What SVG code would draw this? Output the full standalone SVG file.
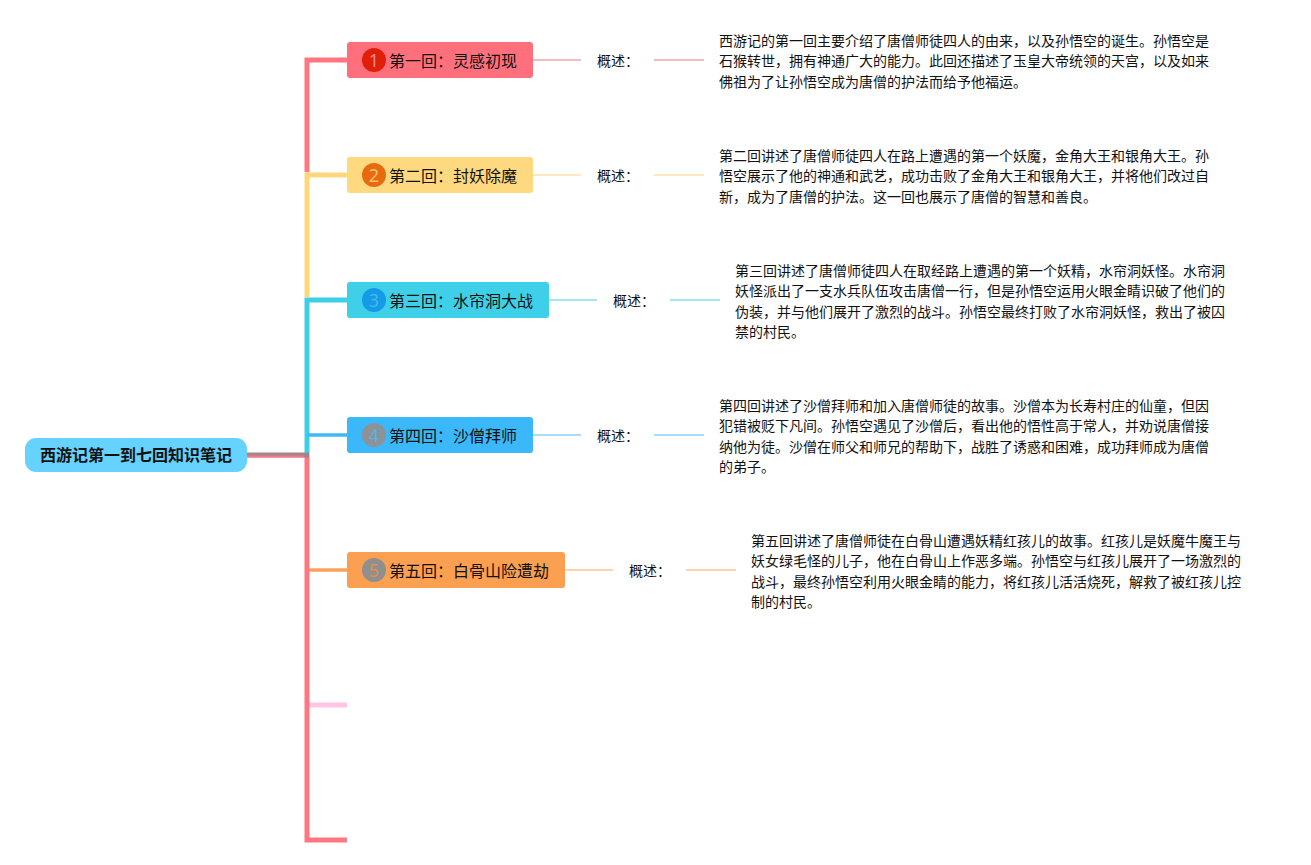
<svg xmlns="http://www.w3.org/2000/svg" width="1311" height="865" viewBox="0 0 1311 865">
<style>
text{font-family:"Noto Sans CJK SC","Noto Sans",sans-serif;fill:#111}
.t{font-size:16px}
.b{font-size:14px}
.n{font-size:18px;font-family:"Noto Sans","Liberation Sans",sans-serif;text-anchor:middle}
.l{fill:none;stroke-width:5}
.m{fill:none;stroke-width:3.500}
.s{fill:none;stroke-width:2}
</style>
<rect width="1311" height="865" fill="#fff"/>
<g id="connectors">
<path class="l" stroke="#ff7580" d="M307 172V60H347"/>
<path class="l" stroke="#ffd77a" d="M307 297V175H347"/>
<path class="l" stroke="#3ecfe8" d="M307 455V300H347"/>
<path class="m" stroke="#3fb8f5" d="M307 435H347"/>
<path class="m" stroke="#ffa05a" d="M307 570H347"/>
<path class="l" stroke="#ffc4e4" d="M307 705H347"/>
<path class="l" stroke="#ff7580" d="M307 455V840H347"/>
<path class="l" stroke="#a0858f" d="M247 455H309"/>
<path fill="none" stroke="#ff7580" stroke-width="2" d="M247 456.500H304"/>
<path class="s" stroke="#f9b8c0" d="M533 60H581M654 60H704"/>
<path class="s" stroke="#ffe9bc" d="M533 175H581M654 175H704"/>
<path class="s" stroke="#a4e6f3" d="M549 300H597M670 300H720"/>
<path class="s" stroke="#a6dcfa" d="M533 435H581M654 435H704"/>
<path class="s" stroke="#fdd3b0" d="M565 570H613M686 570H736"/>
</g>
<g id="root"><rect x="25" y="438" width="222" height="34" rx="11" fill="#66d2ff"/><text x="40" y="461" font-size="16" font-weight="700">西游记第一到七回知识笔记</text></g>
<g id="node1"><rect x="347" y="42" width="186" height="36" rx="3" fill="#ff6f7c"/><circle cx="374" cy="60" r="12" fill="#e01f0a"/><text class="n" x="374" y="66.500" style="fill:#ff8a80">1</text><text class="t" x="389" y="67">第一回：灵感初现</text></g>
<g id="node2"><rect x="347" y="157" width="186" height="36" rx="3" fill="#ffd97f"/><circle cx="374" cy="175" r="12" fill="#e86a10"/><text class="n" x="374" y="181.500" style="fill:#ffc070">2</text><text class="t" x="389" y="182">第二回：封妖除魔</text></g>
<g id="node3"><rect x="347" y="282" width="202" height="36" rx="3" fill="#3dd0e8"/><circle cx="374" cy="300" r="12" fill="#149ae6"/><text class="n" x="374" y="306.500" style="fill:#44b8ee">3</text><text class="t" x="389" y="307">第三回：水帘洞大战</text></g>
<g id="node4"><rect x="347" y="417" width="186" height="36" rx="3" fill="#3ab8fa"/><circle cx="374" cy="435" r="12" fill="#8c9296"/><text class="n" x="374" y="441.500" style="fill:#5db0e8">4</text><text class="t" x="389" y="442">第四回：沙僧拜师</text></g>
<g id="node5"><rect x="347" y="552" width="218" height="36" rx="3" fill="#fb9f50"/><circle cx="374" cy="570" r="12" fill="#8f8f8f"/><text class="n" x="374" y="576.500" style="fill:#e09050">5</text><text class="t" x="389" y="577">第五回：白骨山险遭劫</text></g>
<g id="summary1"><text class="b" x="597" y="66">概述：</text><text class="b" x="719" y="46">西游记的第一回主要介绍了唐僧师徒四人的由来，以及孙悟空的诞生。孙悟空是</text><text class="b" x="719" y="66">石猴转世，拥有神通广大的能力。此回还描述了玉皇大帝统领的天宫，以及如来</text><text class="b" x="719" y="86.500">佛祖为了让孙悟空成为唐僧的护法而给予他福运。</text></g>
<g id="summary2"><text class="b" x="597" y="181">概述：</text><text class="b" x="719" y="161">第二回讲述了唐僧师徒四人在路上遭遇的第一个妖魔，金角大王和银角大王。孙</text><text class="b" x="719" y="181">悟空展示了他的神通和武艺，成功击败了金角大王和银角大王，并将他们改过自</text><text class="b" x="719" y="201.500">新，成为了唐僧的护法。这一回也展示了唐僧的智慧和善良。</text></g>
<g id="summary3"><text class="b" x="613" y="306">概述：</text><text class="b" x="735" y="276">第三回讲述了唐僧师徒四人在取经路上遭遇的第一个妖精，水帘洞妖怪。水帘洞</text><text class="b" x="735" y="296">妖怪派出了一支水兵队伍攻击唐僧一行，但是孙悟空运用火眼金睛识破了他们的</text><text class="b" x="735" y="316.500">伪装，并与他们展开了激烈的战斗。孙悟空最终打败了水帘洞妖怪，救出了被囚</text><text class="b" x="735" y="337">禁的村民。</text></g>
<g id="summary4"><text class="b" x="597" y="441">概述：</text><text class="b" x="719" y="411">第四回讲述了沙僧拜师和加入唐僧师徒的故事。沙僧本为长寿村庄的仙童，但因</text><text class="b" x="719" y="431">犯错被贬下凡间。孙悟空遇见了沙僧后，看出他的悟性高于常人，并劝说唐僧接</text><text class="b" x="719" y="451.500">纳他为徒。沙僧在师父和师兄的帮助下，战胜了诱惑和困难，成功拜师成为唐僧</text><text class="b" x="719" y="472">的弟子。</text></g>
<g id="summary5"><text class="b" x="629" y="576">概述：</text><text class="b" x="751" y="546">第五回讲述了唐僧师徒在白骨山遭遇妖精红孩儿的故事。红孩儿是妖魔牛魔王与</text><text class="b" x="751" y="566">妖女绿毛怪的儿子，他在白骨山上作恶多端。孙悟空与红孩儿展开了一场激烈的</text><text class="b" x="751" y="586.500">战斗，最终孙悟空利用火眼金睛的能力，将红孩儿活活烧死，解救了被红孩儿控</text><text class="b" x="751" y="607">制的村民。</text></g>
</svg>
